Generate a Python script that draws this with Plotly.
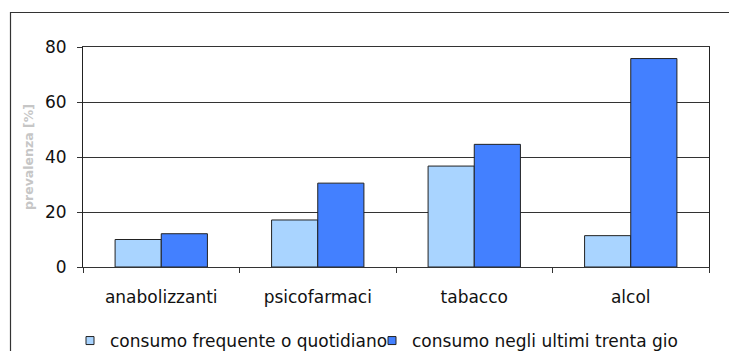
import plotly.graph_objects as go

categories = ["anabolizzanti", "psicofarmaci", "tabacco", "alcol"]
frequente = [10.0, 17.1, 36.7, 11.4]
ultimi_trenta = [12.1, 30.5, 44.6, 75.8]
series_names = ["consumo frequente o quotidiano", "consumo negli ultimi trenta gio"]
series_colors = ["#A9D4FF", "#4380FF"]
y_ticks = [0, 20, 40, 60, 80]

# the page body has an 8px margin, so the figure is drawn 8px smaller
OFF = 8
W, H = 737 - OFF, 351 - OFF
ML, MR, MT, MB = 83 - OFF, 28, 47 - OFF, 84
PW, PH = W - ML - MR, H - MT - MB

def px_x(p):
    return (p - OFF - ML) / PW

def px_y(p):
    return (H - MB - (p - OFF)) / PH

FONT = "DejaVu Sans"
OUTLINE = "#222222"

fig = go.Figure()
for name, vals, col in zip(series_names, [frequente, ultimi_trenta], series_colors):
    fig.add_trace(go.Bar(
        x=categories, y=vals, name=name, showlegend=False,
        marker=dict(color=col, line=dict(color=OUTLINE, width=1)),
    ))
# legend entries with small square keys, one legend box per series
legend_ids = ["legend", "legend2"]
for name, col, lid in zip(series_names, series_colors, legend_ids):
    fig.add_trace(go.Scatter(
        x=[None], y=[None], name=name, mode="markers", legend=lid,
        marker=dict(symbol="square", size=8, color=col,
                    line=dict(color=OUTLINE, width=1)),
        hoverinfo="skip",
    ))

legend_style = dict(
    orientation="h", xanchor="left", y=px_y(341), yanchor="middle",
    font=dict(family=FONT, size=17, color="#111111"),
    bgcolor="rgba(0,0,0,0)", itemclick=False, itemdoubleclick=False,
)

fig.update_layout(
    width=W, height=H,
    margin=dict(l=ML, r=MR, t=MT, b=MB, autoexpand=False),
    paper_bgcolor="white", plot_bgcolor="white",
    barmode="group", bargap=0.41, bargroupgap=0,
    font=dict(family=FONT, size=17, color="#111111"),
    showlegend=True,
    legend=dict(x=px_x(70), **legend_style),
    legend2=dict(x=px_x(372), **legend_style),
    xaxis=dict(
        type="category", tickson="boundaries", ticks="outside", ticklen=5,
        tickcolor="#333333", showline=True, linecolor="#333333", linewidth=1,
        mirror=True, showgrid=False, ticklabelstandoff=15,
        tickfont=dict(family=FONT, size=17, color="#111111"),
    ),
    yaxis=dict(
        range=[0, 80], tickvals=y_ticks, ticks="outside", ticklen=5,
        tickcolor="#333333", showline=True, linecolor="#222222", linewidth=1,
        mirror=True, showgrid=True, gridcolor="#333333", gridwidth=1,
        zeroline=False, ticklabelstandoff=7,
        tickfont=dict(family=FONT, size=17, color="#111111"),
        title=dict(text="<b>prevalenza [%]</b>", standoff=8,
                   font=dict(family=FONT, size=12.5, color="#C6C6C6")),
    ),
    shapes=[dict(
        type="rect", xref="paper", yref="paper",
        x0=px_x(10.5), x1=px_x(760), y0=px_y(12.5), y1=px_y(380),
        line=dict(color="#333333", width=1.2), fillcolor="rgba(0,0,0,0)",
        layer="below",
    )],
)

fig.write_html("out.html")
